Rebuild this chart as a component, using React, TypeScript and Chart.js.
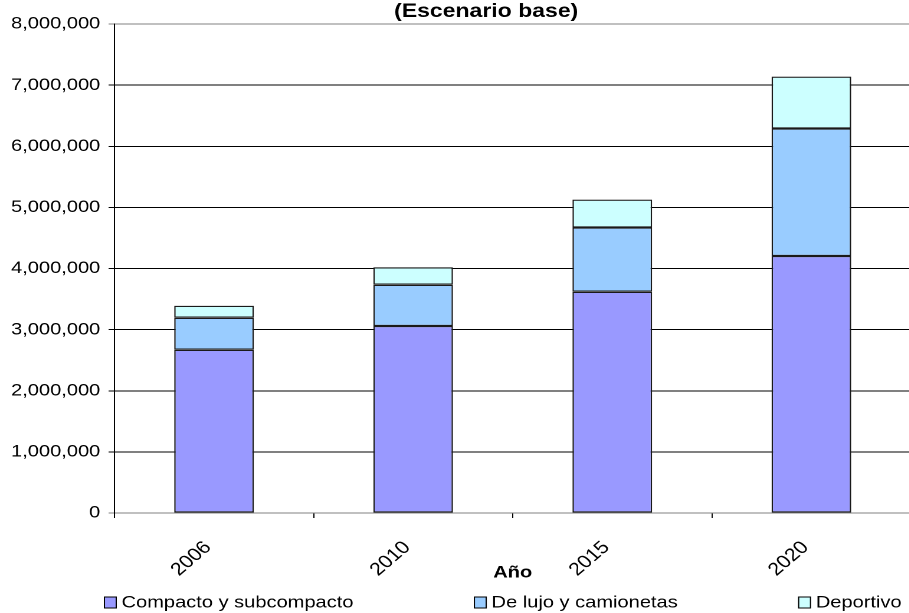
import React, { useEffect, useRef } from 'react';
import { Chart, registerables } from 'chart.js';

Chart.register(...registerables);

// ---- data ----
const years = ['2006', '2010', '2015', '2020'];
const seriesNames = ['Compacto y subcompacto', 'De lujo y camionetas', 'Deportivo'];
const compacto = [2670000, 3060000, 3620000, 4205000];
const lujo = [525000, 675000, 1050000, 2085000];
const deportivo = [195000, 285000, 456000, 850000];
const seriesColors = ['#9999FF', '#99CCFF', '#CCFFFF'];
const yMin = 0;
const yMax = 8000000;
const yStep = 1000000;
const titleText = '(Escenario base)';
const xTitleText = 'Año';

// ---- style ----
const SX = 1.18; // horizontal stretch of the reference rendering
const FONT = '"Liberation Sans", Arial, Helvetica, sans-serif';

Chart.defaults.font.family = FONT;
Chart.defaults.color = '#000';

const excelDecor = {
  id: 'excelDecor',
  afterDraw(chart: any) {
    const { ctx, chartArea } = chart;
    ctx.save();
    // title
    ctx.font = `bold 19.5px ${FONT}`;
    ctx.textBaseline = 'middle';
    ctx.textAlign = 'center';
    ctx.fillStyle = '#000';
    ctx.fillText(titleText, (chartArea.left + chartArea.right) / 2 - 22.5, 11.5);
    // legend
    ctx.font = `17px ${FONT}`;
    ctx.textAlign = 'left';
    const cy = chart.height - 10.5;
    let x = chartArea.left - 9;
    chart.data.datasets.forEach((ds: any) => {
      ctx.fillStyle = ds.backgroundColor;
      ctx.fillRect(x, cy - 6, 11, 12);
      ctx.lineWidth = 1;
      ctx.strokeStyle = '#000';
      ctx.strokeRect(x + 0.5, cy - 5.5, 10, 11);
      ctx.fillStyle = '#000';
      ctx.fillText(ds.label, x + 15, cy + 0.5);
      x += 15 + ctx.measureText(ds.label).width + 102;
    });
    ctx.restore();
  },
};

export default function App() {
  const ref = useRef<HTMLCanvasElement>(null);

  useEffect(() => {
    const values = [compacto, lujo, deportivo];
    const chart = new Chart(ref.current as HTMLCanvasElement, {
      type: 'bar',
      data: {
        labels: years,
        datasets: seriesNames.map((name, i) => ({
          label: name,
          data: values[i],
          backgroundColor: seriesColors[i],
          borderColor: '#1a1a1a',
          borderWidth: 1.25,
          borderSkipped: false,
          barPercentage: 0.4,
          categoryPercentage: 1,
        })),
      },
      options: {
        animation: false,
        responsive: true,
        maintainAspectRatio: false,
        devicePixelRatio: 2,
        layout: { padding: { left: 0, right: 0, top: 24, bottom: 0 } },
        plugins: {
          legend: { display: false },
          tooltip: { enabled: false },
          title: { display: false },
        },
        scales: {
          x: {
            stacked: true,
            grid: {
              display: true,
              drawOnChartArea: false,
              drawTicks: true,
              tickLength: 5,
              color: '#000',
              offset: true,
            },
            border: { display: true, color: '#808080', width: 1 },
            ticks: {
              color: '#000',
              font: { size: 18, family: FONT },
              minRotation: 45,
              maxRotation: 45,
              padding: 19,
              labelOffset: -5,
              autoSkip: false,
            },
            title: {
              display: true,
              text: xTitleText,
              color: '#000',
              font: { size: 17, weight: 'bold', family: FONT },
              padding: { top: 0, bottom: 30 },
            },
            afterFit: (s: any) => {
              s.height = 100;
            },
          },
          y: {
            stacked: true,
            min: yMin,
            max: yMax,
            ticks: {
              stepSize: yStep,
              color: '#000',
              font: { size: 17, family: FONT },
              padding: 7,
              callback: (v: any) => Number(v).toLocaleString('en-US'),
            },
            grid: {
              color: (c: any) =>
                c.tick && (c.tick.value === yMax || c.tick.value === yMin) ? '#808080' : '#000',
              tickLength: 5,
              lineWidth: 1,
            },
            border: { display: true, color: '#000', width: 1 },
            afterFit: (s: any) => {
              s.width = 97;
            },
          },
        },
      },
      plugins: [excelDecor],
    } as any);
    return () => chart.destroy();
  }, []);

  return (
    <div
      style={{
        position: 'fixed',
        left: 0,
        top: 0,
        width: 909,
        height: 613,
        overflow: 'hidden',
        background: '#fff',
      }}
    >
      <div
        style={{
          position: 'absolute',
          left: 0,
          top: 0,
          width: 772,
          height: 613,
          transform: `scaleX(${SX})`,
          transformOrigin: '0 0',
        }}
      >
        <canvas ref={ref} />
      </div>
    </div>
  );
}
